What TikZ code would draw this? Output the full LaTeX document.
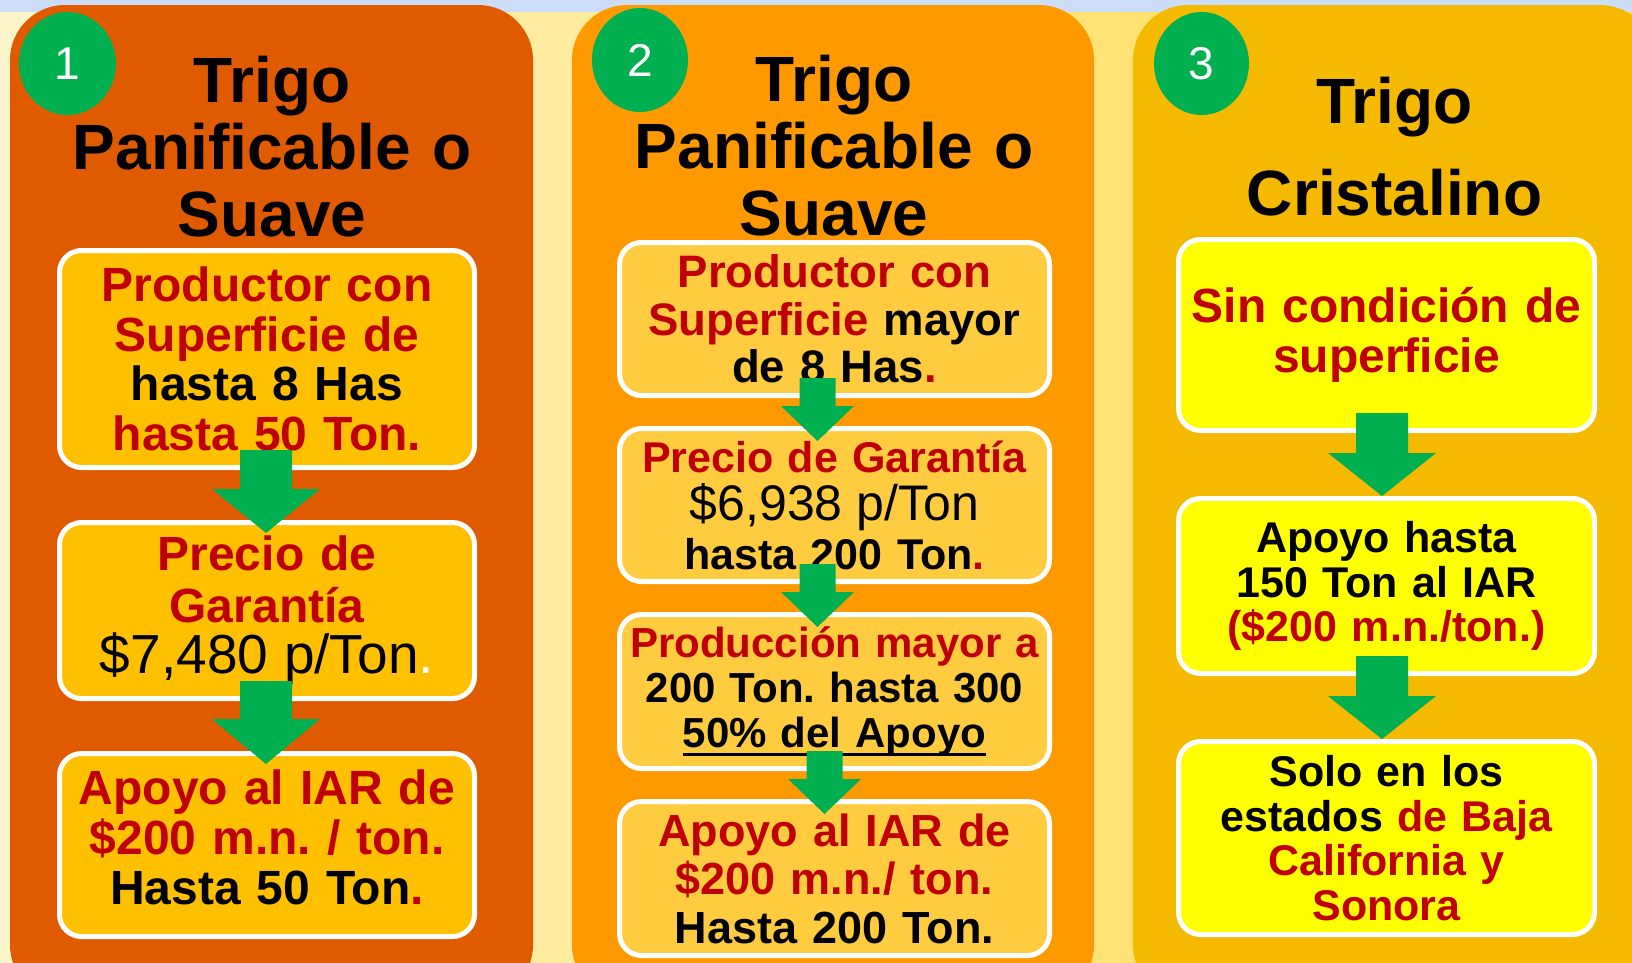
\documentclass[tikz,border=0pt]{standalone}
\usepackage{fontspec}
\setmainfont{Liberation Sans}
\usetikzlibrary{positioning,calc,shapes.geometric}
\definecolor{Sky}{HTML}{CCDDF8}
\definecolor{PaleL}{HTML}{FFF5CA}
\definecolor{PaleR}{HTML}{FFDA4C}
\definecolor{Rust}{HTML}{E05A00}
\definecolor{Tangerine}{HTML}{FF9900}
\definecolor{Gold}{HTML}{F5B900}
\definecolor{Amber}{HTML}{FFC000}
\definecolor{Butter}{HTML}{FFCC3F}
\definecolor{Lemon}{HTML}{FFFF00}
\definecolor{Leaf}{HTML}{00B050}
\definecolor{Brick}{HTML}{C00000}

\frenchspacing
\newcommand{\rd}[1]{\textcolor{Brick}{#1}}
\newcommand{\fs}[2]{\fontsize{#1}{#2}\selectfont}
\newcommand{\lineunder}[1]{\leavevmode\setbox0=\hbox{#1}\rlap{\rule[-8pt]{\wd0}{2.5pt}}\box0}
% block arrow: from, to, x shift, shaft half width, head half width, head length, tip overlap
\newcommand{\greenarrow}[7]{%
  \fill[Leaf] let \p1=($(#1.south)+(#3,20pt)$), \p2=($(#2.north)+(#3,-#7)$) in
    (\x1-#4,\y1) -- (\x1+#4,\y1) -- (\x1+#4,\y2+#6) -- (\x1+#5,\y2+#6)
    -- (\x2,\y2) -- (\x1-#5,\y2+#6) -- (\x1-#4,\y2+#6) -- cycle;}

\tikzset{
  infobox/.style={draw=white,line width=5pt,rounded corners=22pt,align=center,
    inner xsep=4pt,inner ysep=0pt},
  numdisc/.style={ellipse,fill=Leaf,text=white,inner sep=0pt,font=\fs{46}{46}},
  title/.style={align=center,inner sep=0pt,text width=520pt,font=\bfseries\fs{64}{67}},
}

\begin{document}
\begin{tikzpicture}[x=1pt,y=1pt]
  \useasboundingbox (0,0) rectangle (1632,-962);
  \clip (0,0) rectangle (1632,-962);
  % background and the three columns
  \fill[left color=PaleL,right color=PaleR] (0,0) rectangle (1632,-962);
  \fill[Sky] (0,0) rectangle (1632,-12);
  \fill[Rust,rounded corners=55pt] (10,-5) rectangle (533,-1000);
  \fill[Tangerine,rounded corners=55pt] (572,-5) rectangle (1094,-1000);
  \fill[Gold,rounded corners=55pt] (1133,-5) rectangle (1655,-1000);

  \node[numdisc,minimum width=97pt,minimum height=103pt] (n1) at (67.5,-63.5) {1};
  \node[numdisc,minimum width=96pt,minimum height=104pt] (n2) at (640,-60) {2};
  \node[numdisc,minimum width=95pt,minimum height=103pt] (n3) at (1201.5,-63.5) {3};

  \node[title] (t1) at (272,-147) {Trigo\\Panificable o\\Suave};
  \node[title] (t2) at (834,-146) {Trigo\\Panificable o\\Suave};
  \node[title,font=\bfseries\fs{64}{92}] (t3) at (1394.5,-147) {Trigo\\Cristalino};

  % column 1
  \node[infobox,fill=Amber,minimum width=415pt,minimum height=217pt,text width=405pt,
    font=\bfseries\fs{48}{49.5}] (b1a) at (267,-359)
    {\rd{Productor con}\\\rd{Superficie de}\\hasta 8 Has\\\rd{hasta 50 Ton.}};
  \node[infobox,fill=Amber,minimum width=415pt,minimum height=176pt,text width=405pt,
    font=\bfseries\fs{48}{51.5},below=50pt of b1a] (b1b)
    {\rd{Precio de}\\\rd{Garantía}\\{\mdseries\fs{55}{51.5}\$7,480 p/Ton\textcolor{white}{.}}};
  \node[infobox,fill=Amber,minimum width=415pt,minimum height=183pt,text width=405pt,
    font=\bfseries\fs{48}{50},below=50pt of b1b] (b1c)
    {\rd{Apoyo al IAR de}\\\rd{\$200 m.n. / ton.}\\Hasta 50 Ton\rd{.}\rule[-16pt]{0pt}{1pt}};

  % column 2
  \node[infobox,fill=Butter,minimum width=430pt,minimum height=153pt,text width=420pt,
    font=\bfseries\fs{45.5}{47.5}] (b2a) at (834.5,-319)
    {\rd{Productor con}\\\rd{Superficie} mayor\\de 8 Has\rd{.}};
  \node[infobox,fill=Butter,minimum width=430pt,minimum height=153pt,text width=420pt,
    font=\bfseries\fs{43}{48.5},below=28pt of b2a] (b2b)
    {\rd{Precio de Garantía}\\{\mdseries\fs{50}{48.5}\$6,938 p/Ton}\\hasta 200 Ton\rd{.}};
  \node[infobox,fill=Butter,minimum width=430pt,minimum height=154pt,text width=420pt,
    font=\bfseries\fs{42}{45},below=28pt of b2b] (b2c)
    {\rd{Producción mayor a}\\200 Ton. hasta 300\\\lineunder{50\% del Apoyo}};
  \node[infobox,fill=Butter,minimum width=430pt,minimum height=154pt,text width=420pt,
    font=\bfseries\fs{45}{48.5},below=28pt of b2c] (b2d)
    {\rd{Apoyo al IAR de}\\\rd{\$200 m.n./ ton.}\\Hasta 200 Ton.};

  % column 3
  \node[infobox,fill=Lemon,minimum width=416pt,minimum height=191pt,text width=406pt,
    font=\bfseries\fs{48}{50}] (b3a) at (1386.5,-335)
    {\rd{Sin condición de}\\\rd{superficie}};
  \node[infobox,fill=Lemon,minimum width=416pt,minimum height=175pt,text width=406pt,
    font=\bfseries\fs{43}{44.5},below=63pt of b3a] (b3b)
    {Apoyo hasta\\150 Ton al IAR\\\rd{(\$200 m.n./ton.)}};
  \node[infobox,fill=Lemon,minimum width=416pt,minimum height=193pt,text width=406pt,
    font=\bfseries\fs{43}{44.7},below=63pt of b3b] (b3c)
    {Solo en los\\estados \rd{de Baja}\\\rd{California y}\\\rd{Sonora}};

  % arrows between the steps
  \greenarrow{b1a}{b1b}{-1pt}{26pt}{54pt}{44pt}{13pt}
  \greenarrow{b1b}{b1c}{-1pt}{26pt}{54pt}{45pt}{13pt}
  \greenarrow{b2a}{b2b}{-17pt}{18pt}{36.5pt}{35pt}{15pt}
  \greenarrow{b2b}{b2c}{-17pt}{18pt}{36.5pt}{35pt}{15pt}
  \greenarrow{b2c}{b2d}{-10pt}{18pt}{36.5pt}{35pt}{15pt}
  \greenarrow{b3a}{b3b}{-4.5pt}{26pt}{54pt}{43pt}{0pt}
  \greenarrow{b3b}{b3c}{-4.5pt}{26pt}{54pt}{43pt}{0pt}
\end{tikzpicture}
\end{document}
